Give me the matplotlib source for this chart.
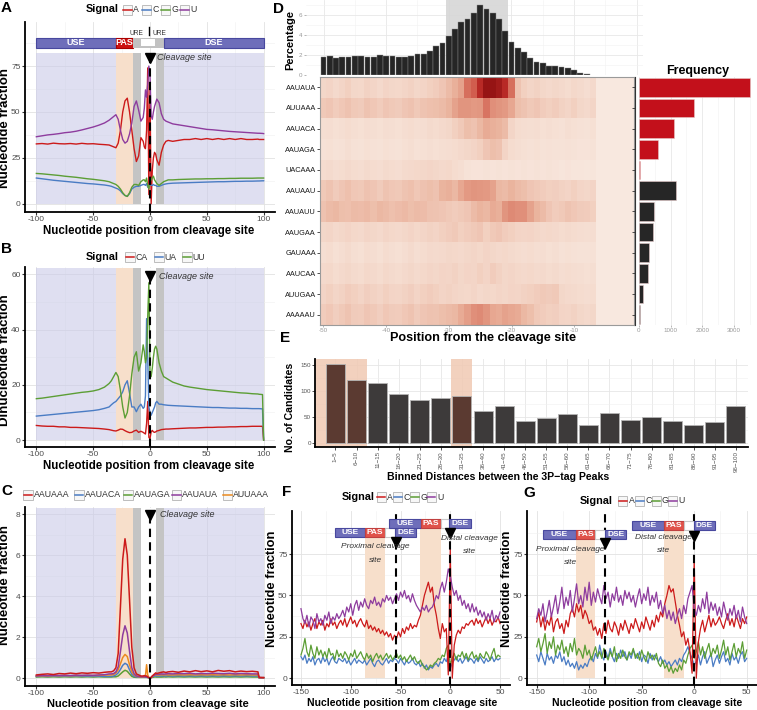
import matplotlib
matplotlib.use('Agg')
import matplotlib.pyplot as plt
from matplotlib.patches import Rectangle
from matplotlib.colors import LinearSegmentedColormap
import numpy as np

plt.rcParams['font.family'] = ['Liberation Sans', 'DejaVu Sans']
plt.rcParams['axes.unicode_minus'] = False

# ---------------- DATA ----------------
# Panels A-C: positions relative to cleavage site
pos_abc = ([-100, -95, -90, -85, -80, -75, -70, -65, -60, -55, -50, -45, -40]
           + [-36, -34, -32, -30, -28, -26, -24, -22, -20, -18, -16, -14, -12, -10, -8, -6]
           + [-5, -4, -3, -2, -1, 0, 1, 2, 3, 4, 5, 6]
           + [8, 10, 12, 14, 16]
           + [20, 25, 30, 35, 40, 45, 50, 55, 60, 65, 70, 75, 80, 85, 90, 95]
           + [96, 99, 100])

# Panel A: nucleotide fractions
a_A = ([32.6, 32.8, 32.5, 33.0, 32.7, 32.6, 32.8, 32.5, 32.9, 32.6, 32.7, 32.4, 32.2]
       + [32, 31.5, 31, 30.5, 33, 40, 50, 56, 57.5, 50, 40, 30, 23, 26, 36, 34]
       + [31, 30, 40, 74, 5, 62, 0, 18, 25, 28, 27, 24]
       + [21, 28, 32, 34, 34.5]
       + [34, 34.5, 35, 35, 35.5, 35, 35.5, 35, 35.5, 35, 35.5, 35, 35.5, 35, 35, 35.2]
       + [35, 35, 35])
a_U = ([36.5, 37, 37.5, 37.8, 38.2, 38.7, 39, 39.5, 40.2, 41, 41.8, 42.8, 44]
       + [45.5, 46.5, 47.5, 48.5, 46, 40, 35, 33, 34, 38, 44, 53, 56, 51, 45, 47]
       + [52, 62, 58, 65, 75, 70, 48, 46, 50, 53, 55, 57]
       + [55, 49, 46, 45, 44.5]
       + [43.5, 43, 42.5, 42, 41.5, 41, 40.5, 40.3, 40, 39.7, 39.4, 39.2, 39, 38.8, 38.6, 38.4]
       + [38.4, 38.3, 38.2])
a_G = ([16.5, 16.3, 16, 15.7, 15.4, 15, 14.7, 14.4, 14, 13.6, 13.3, 12.9, 12.5]
       + [12, 11.5, 11, 10.5, 9.5, 8, 6, 4.5, 4, 6, 9, 10.5, 10.5, 10, 12, 13]
       + [13, 12, 14, 10, 8, 12, 13, 14, 15, 13, 12, 11]
       + [10, 11, 12, 12.5, 13]
       + [13, 13.2, 13.3, 13.4, 13.5, 13.5, 13.6, 13.6, 13.7, 13.7, 13.8, 13.8, 13.9, 13.9, 13.9, 14]
       + [14, 14, 14])
a_C = ([14, 13.6, 13.2, 12.8, 12.5, 12.2, 11.9, 11.6, 11.3, 11, 10.8, 10.5, 10.2]
       + [9.8, 9.5, 9, 8.5, 8, 7, 5.5, 4.5, 4, 5.5, 8, 9, 9.5, 9.5, 10, 10.5]
       + [10.5, 10, 11, 9, 10, 11, 10, 10, 10.5, 10, 10, 9.5]
       + [9.5, 10, 10.5, 10.8, 11]
       + [11.2, 11.3, 11.4, 11.5, 11.6, 11.7, 11.8, 11.9, 12, 12, 12.1, 12.2, 12.2, 12.3, 12.3, 12.4]
       + [12.4, 12.5, 12.5])

# Panel B: dinucleotide fractions
b_UU = ([15, 15.2, 15.5, 15.8, 16.1, 16.4, 16.7, 17, 17.3, 17.5, 17.8, 18.3, 19.2]
        + [20.5, 21.5, 23, 24.5, 23, 18, 12, 8, 10, 16, 24, 30, 32, 25, 28, 34.5]
        + [32, 28, 30, 45, 57, 24, 23, 26, 30, 33, 34, 33]
        + [28, 25, 23, 22.5, 22]
        + [21, 20.3, 19.6, 19.2, 18.9, 18.6, 18.3, 18.1, 17.9, 17.7, 17.5, 17.3, 17.1, 17, 16.8, 16.7]
        + [16.6, 16.5, 0])
b_UA = ([8.7, 8.9, 9.1, 9.3, 9.5, 9.7, 9.9, 10.1, 10.3, 10.5, 10.7, 11, 11.5]
        + [12, 12.8, 13.5, 14, 15, 16, 17.5, 20, 21.5, 17, 12, 12, 10.3, 12, 13, 11.5]
        + [12, 16, 44, 30, 12, 10, 9, 10, 11, 12, 13.5, 14]
        + [13, 13, 12.8, 12.7, 12.6]
        + [12.5, 12.4, 12.3, 12.2, 12.1, 12, 11.9, 11.8, 11.8, 11.7, 11.6, 11.6, 11.5, 11.5, 11.4, 11.4]
        + [11.4, 11.3, 0])
b_CA = ([5.3, 5.1, 5.0, 5.0, 4.8, 4.8, 4.6, 4.6, 4.5, 4.4, 4.3, 4.2, 4.0]
        + [3.8, 3.6, 3.4, 3.3, 3.6, 4.0, 3.9, 3.4, 3.0, 2.7, 2.8, 3.3, 3.6, 2.8, 3.2, 2.8]
        + [2.5, 2.2, 6, 14, 1, 0.5, 3, 3.5, 3, 2.8, 3, 3.3]
        + [3.5, 3.8, 3.9, 4, 4]
        + [4.1, 4.2, 4.3, 4.4, 4.4, 4.5, 4.6, 4.6, 4.7, 4.7, 4.8, 4.8, 4.9, 4.9, 5.0, 5.0]
        + [5.0, 5.0, 0])

# Panel C: hexamer fractions
c_AAUAAA = ([0.15, 0.18, 0.2, 0.17, 0.22, 0.2, 0.24, 0.21, 0.25, 0.23, 0.26, 0.24, 0.28]
            + [0.3, 0.3, 0.35, 0.5, 1.2, 3.5, 5.8, 6.8, 6.0, 3.8, 1.5, 0.5, 0.2, 0.15, 0.1, 0.1]
            + [0.12, 0.1, 0.1, 0.05, 0.02, 0.0, 0.02, 0.1, 0.15, 0.2, 0.25, 0.22]
            + [0.25, 0.28, 0.3, 0.27, 0.3]
            + [0.32, 0.28, 0.34, 0.3, 0.36, 0.31, 0.35, 0.3, 0.37, 0.33, 0.36, 0.3, 0.34, 0.31, 0.33, 0.3]
            + [0.03, 0.02, 0.02])
c_AAUACA = ([0.08, 0.09, 0.08, 0.09, 0.08, 0.09, 0.08, 0.09, 0.08, 0.09, 0.08, 0.09, 0.08]
            + [0.08, 0.08, 0.1, 0.15, 0.25, 0.42, 0.62, 0.72, 0.65, 0.4, 0.18, 0.08, 0.05, 0.04, 0.04, 0.04]
            + [0.04, 0.04, 0.04, 0.03, 0.02, 0.0, 0.03, 0.06, 0.08, 0.1, 0.1, 0.1]
            + [0.1, 0.1, 0.11, 0.1, 0.11]
            + [0.1, 0.11, 0.1, 0.11, 0.1, 0.11, 0.1, 0.11, 0.1, 0.11, 0.1, 0.11, 0.1, 0.11, 0.1, 0.1]
            + [0.01, 0.01, 0.01])
c_AAUAGA = ([0.05, 0.06, 0.05, 0.06, 0.05, 0.06, 0.05, 0.06, 0.05, 0.06, 0.05, 0.06, 0.05]
            + [0.05, 0.05, 0.06, 0.06, 0.1, 0.2, 0.3, 0.38, 0.33, 0.2, 0.08, 0.04, 0.03, 0.03, 0.03, 0.03]
            + [0.03, 0.03, 0.03, 0.02, 0.01, 0.0, 0.02, 0.03, 0.04, 0.05, 0.05, 0.05]
            + [0.05, 0.05, 0.06, 0.05, 0.06]
            + [0.05, 0.06, 0.05, 0.06, 0.05, 0.06, 0.05, 0.06, 0.05, 0.06, 0.05, 0.06, 0.05, 0.06, 0.05, 0.05]
            + [0.01, 0.01, 0.01])
c_AAUAUA = ([0.1, 0.12, 0.11, 0.13, 0.12, 0.13, 0.12, 0.14, 0.13, 0.14, 0.13, 0.15, 0.16]
            + [0.2, 0.2, 0.22, 0.3, 0.55, 1.3, 2.1, 2.55, 2.2, 1.3, 0.5, 0.2, 0.1, 0.08, 0.06, 0.06]
            + [0.06, 0.06, 0.05, 0.04, 0.02, 0.0, 0.03, 0.08, 0.12, 0.15, 0.17, 0.18]
            + [0.18, 0.2, 0.19, 0.2, 0.21]
            + [0.2, 0.22, 0.21, 0.23, 0.2, 0.22, 0.21, 0.23, 0.22, 0.21, 0.23, 0.2, 0.22, 0.21, 0.2, 0.2]
            + [0.02, 0.02, 0.02])
c_AUUAAA = ([0.1, 0.11, 0.1, 0.12, 0.11, 0.12, 0.11, 0.12, 0.12, 0.13, 0.12, 0.13, 0.14]
            + [0.15, 0.15, 0.17, 0.25, 0.4, 0.7, 1.0, 1.15, 1.05, 0.65, 0.3, 0.15, 0.08, 0.06, 0.05, 0.05]
            + [0.05, 0.1, 0.65, 0.15, 0.03, 0.0, 0.03, 0.08, 0.12, 0.14, 0.15, 0.15]
            + [0.15, 0.16, 0.15, 0.16, 0.15]
            + [0.15, 0.16, 0.15, 0.16, 0.15, 0.16, 0.15, 0.16, 0.15, 0.16, 0.15, 0.16, 0.15, 0.16, 0.15, 0.15]
            + [0.02, 0.02, 0.02])

# Panel D
hist_pos = list(range(-50, -7))
hist_pct = [1.83, 1.9, 1.73, 1.8, 1.8, 1.87, 1.87, 1.8, 1.83, 1.97, 1.87, 1.87, 1.8, 1.8, 1.9,
            2.07, 2.1, 2.4, 2.9, 3.23, 3.9, 4.57, 5.3, 5.63, 6.17, 7.03, 6.63, 6.23, 5.57, 4.43,
            3.3, 2.73, 2.3, 1.7, 1.33, 1.17, 0.93, 0.93, 0.83, 0.73, 0.5, 0.17, 0.07]
heat_rows = ['AAUAUA', 'AUUAAA', 'AAUACA', 'AAUAGA', 'UACAAA', 'AAUAAU',
             'AAUAUU', 'AAUGAA', 'GAUAAA', 'AAUCAA', 'AUUGAA', 'AAAAAU']
heat_cols = list(range(-50, 0))
heat_vals = [
    [14, 16, 12, 15, 18, 14, 13, 17, 15, 12, 16, 14, 13, 15, 17, 14, 16, 18, 20, 24, 30, 36, 42,
     62, 68, 85, 100, 100, 95, 85, 62, 25, 18, 15, 17, 14, 12, 14, 12, 10, 13, 11, 9, 12, 0, 0, 0, 0, 0, 0],
    [22, 24, 20, 23, 26, 22, 21, 25, 23, 20, 24, 22, 21, 24, 26, 22, 25, 27, 28, 30, 34, 42, 48,
     48, 46, 47, 60, 50, 48, 46, 40, 28, 25, 22, 24, 20, 18, 20, 17, 15, 18, 14, 12, 15, 0, 0, 0, 0, 0, 0],
    [8, 9, 7, 8, 10, 8, 7, 9, 8, 7, 9, 8, 7, 9, 10, 8, 9, 11, 10, 12, 14, 18, 22,
     28, 26, 32, 38, 36, 34, 30, 15, 10, 9, 8, 9, 7, 8, 7, 6, 8, 7, 6, 5, 7, 0, 0, 0, 0, 0, 0],
    [6, 7, 5, 6, 8, 6, 5, 7, 6, 5, 7, 6, 5, 7, 8, 6, 7, 8, 7, 8, 9, 10, 12,
     14, 16, 18, 24, 28, 26, 16, 10, 8, 7, 6, 7, 5, 6, 5, 5, 6, 5, 4, 4, 5, 0, 0, 0, 0, 0, 0],
    [10, 11, 9, 10, 12, 10, 9, 11, 10, 9, 11, 10, 9, 11, 12, 13, 14, 15, 14, 12, 13, 10, 8,
     5, 4, 4, 5, 4, 5, 4, 5, 4, 5, 4, 5, 4, 5, 4, 3, 4, 3, 3, 2, 3, 0, 0, 0, 0, 0, 0],
    [22, 25, 21, 24, 27, 23, 22, 26, 24, 21, 25, 23, 22, 25, 27, 23, 26, 28, 26, 34, 36, 32, 40,
     46, 48, 47, 46, 42, 32, 30, 34, 30, 28, 24, 22, 20, 18, 19, 17, 16, 18, 15, 14, 16, 0, 0, 0, 0, 0, 0],
    [26, 30, 32, 28, 27, 30, 29, 31, 28, 32, 30, 27, 29, 31, 28, 30, 29, 26, 25, 24, 22, 20, 22,
     24, 30, 34, 32, 38, 36, 48, 52, 50, 50, 42, 34, 30, 24, 20, 22, 25, 23, 21, 20, 18, 0, 0, 0, 0, 0, 0],
    [14, 15, 12, 14, 16, 13, 12, 15, 14, 12, 15, 13, 12, 14, 16, 13, 15, 17, 16, 18, 20, 22, 18,
     20, 22, 24, 18, 22, 24, 20, 18, 16, 15, 16, 14, 12, 13, 12, 10, 11, 10, 9, 8, 9, 0, 0, 0, 0, 0, 0],
    [8, 10, 7, 9, 11, 8, 7, 10, 9, 7, 10, 8, 7, 9, 11, 8, 10, 12, 11, 12, 14, 13, 12,
     14, 15, 13, 16, 14, 12, 13, 11, 10, 9, 10, 8, 9, 7, 8, 6, 7, 6, 5, 5, 6, 0, 0, 0, 0, 0, 0],
    [12, 13, 10, 12, 14, 11, 10, 13, 12, 10, 13, 11, 10, 12, 14, 11, 13, 15, 14, 16, 15, 17, 14,
     16, 15, 18, 16, 20, 17, 14, 15, 13, 12, 13, 11, 12, 10, 11, 9, 10, 9, 8, 7, 8, 0, 0, 0, 0, 0, 0],
    [16, 18, 15, 17, 20, 18, 16, 19, 17, 15, 18, 16, 15, 17, 19, 16, 18, 20, 18, 16, 17, 15, 14,
     13, 15, 12, 14, 13, 15, 14, 16, 15, 17, 18, 20, 22, 21, 22, 14, 12, 11, 10, 9, 10, 0, 0, 0, 0, 0, 0],
    [20, 23, 19, 22, 25, 21, 20, 24, 22, 19, 23, 21, 20, 23, 25, 21, 24, 26, 25, 28, 30, 32, 38,
     44, 50, 52, 48, 40, 38, 42, 40, 38, 32, 28, 22, 20, 18, 19, 16, 15, 17, 14, 12, 14, 0, 0, 0, 0, 0, 0],
]
freq_vals = [3505, 1747, 1116, 600, 30, 1158, 484, 431, 326, 274, 116, 40]

# Panel E
e_bins = ['1\u22125', '6\u221210', '11\u221215', '16\u221220', '21\u221225', '26\u221230', '31\u221235',
          '36\u221240', '41\u221245', '46\u221250', '51\u221255', '56\u221260', '61\u221265', '66\u221270',
          '71\u221275', '76\u221280', '81\u221285', '86\u221290', '91\u221295', '96\u2212100']
e_counts = [152, 121, 115, 94, 82, 87, 90, 62, 70, 43, 47, 55, 34, 58, 45, 49, 42, 34, 40, 70]
e_highlight = [0, 1, 6]

# Panels F, G: positions every 2 nt
pos_fg = list(range(-150, 51, 2))
f_A = ([33, 30, 35, 31, 34, 29, 33, 36, 30, 34, 32, 35, 29, 33, 31, 36, 32, 34, 30, 33, 35]
       + [32, 36, 31, 34, 37, 33, 35, 31, 34, 36] + [33, 31, 35, 30, 32, 29, 31, 28, 30, 27]
       + [29, 26, 28, 25, 27, 23, 26] + [24, 28, 25, 30, 27, 31, 29, 33, 30, 32]
       + [31, 35, 38, 44, 50, 54, 58, 52] + [55, 44, 38, 30, 24, 33, 28] + [30, 2, 78]
       + [0, 20, 26, 29, 27, 31, 30, 33, 32, 34]
       + [35, 32, 36, 33, 35, 31, 34, 37, 33, 36, 32, 35, 34, 37, 33])
f_C = ([13, 11, 14, 9, 12, 10, 13, 8, 11, 12, 9, 13, 10, 12, 8, 11, 13, 10, 9, 12, 11]
       + [10, 12, 9, 11, 8, 10, 12, 9, 11, 10] + [9, 11, 8, 10, 12, 9, 7, 10, 11, 9]
       + [8, 10, 12, 9, 11, 10, 12] + [11, 9, 12, 10, 8, 11, 9, 10, 12, 9]
       + [8, 10, 7, 9, 6, 8, 5, 7] + [6, 8, 9, 7, 10, 9, 12] + [10, 14, 6]
       + [9, 11, 13, 10, 12, 9, 11, 13, 10, 12]
       + [11, 9, 12, 10, 13, 11, 9, 12, 10, 11, 13, 10, 12, 11, 12])
f_G = ([14, 18, 24, 16, 13, 20, 15, 12, 19, 14, 17, 13, 16, 12, 18, 14, 15, 11, 17, 13, 15]
       + [12, 16, 14, 11, 15, 13, 17, 12, 14, 16] + [13, 11, 15, 12, 14, 10, 13, 15, 12, 14]
       + [11, 13, 15, 12, 14, 11, 13] + [15, 12, 14, 11, 13, 10, 12, 14, 11, 13]
       + [10, 9, 11, 8, 7, 5, 6, 8] + [7, 9, 10, 12, 11, 14, 13] + [18, 20, 8]
       + [12, 15, 11, 14, 13, 16, 12, 15, 11, 14]
       + [16, 12, 14, 11, 15, 13, 12, 16, 14, 11, 15, 18, 12, 14, 13])
f_U = ([42, 36, 33, 38, 31, 37, 35, 30, 39, 34, 36, 32, 38, 35, 40, 33, 37, 35, 39, 36, 38]
       + [41, 37, 43, 40, 45, 38, 44, 47, 41, 46] + [43, 48, 44, 42, 47, 45, 49, 44, 46, 43]
       + [48, 46, 50, 47, 49, 45, 48] + [51, 47, 52, 49, 53, 48, 50, 46, 51, 47]
       + [44, 42, 40, 43, 41, 44, 40, 42] + [43, 46, 50, 48, 54, 58, 52] + [58, 66, 62]
       + [55, 50, 53, 47, 50, 44, 47, 42, 45, 40]
       + [45, 40, 43, 38, 41, 37, 40, 35, 39, 36, 41, 34, 38, 36, 40])
g_A = ([34, 40, 31, 37, 29, 35, 32, 38, 28, 34, 36, 30, 33, 27, 35, 31, 39, 42, 37, 45, 40]
       + [44, 36, 41, 38, 33, 35, 29, 31, 26, 30] + [24, 33, 27, 35, 30, 28, 34, 31, 26, 33]
       + [29, 35, 31, 27, 33, 30, 36] + [32, 28, 34, 30, 37, 33, 29, 35, 31, 38]
       + [34, 40, 37, 45, 50, 56, 52, 54] + [46, 38, 32, 25, 28, 20, 24] + [16, 3, 72]
       + [0, 22, 30, 35, 28, 33, 38, 31, 36, 32]
       + [34, 37, 33, 30, 35, 39, 32, 36, 31, 38, 34, 30, 36, 33, 37])
g_C = ([14, 10, 16, 12, 8, 15, 11, 13, 9, 14, 12, 16, 10, 13, 8, 11, 7, 9, 6, 10, 5]
       + [8, 6, 9, 7, 11, 13, 10, 15, 12, 20] + [14, 11, 16, 12, 18, 13, 10, 15, 12, 17]
       + [13, 16, 11, 15, 12, 17, 14] + [12, 16, 10, 14, 13, 9, 15, 11, 14, 12]
       + [10, 13, 9, 11, 8, 10, 7, 9] + [11, 8, 12, 10, 14, 16, 19] + [15, 12, 8]
       + [10, 14, 8, 13, 16, 9, 12, 15, 7, 11]
       + [14, 9, 13, 16, 10, 12, 8, 15, 11, 13, 9, 14, 16, 10, 12])
g_G = ([19, 24, 16, 21, 27, 15, 22, 18, 25, 14, 20, 17, 23, 15, 19, 13, 21, 16, 24, 14, 18]
       + [16, 12, 20, 14, 17, 11, 15, 19, 13, 16] + [12, 18, 14, 11, 16, 13, 19, 10, 15, 12]
       + [17, 13, 11, 16, 14, 18, 12] + [15, 11, 17, 13, 10, 16, 12, 14, 11, 15]
       + [9, 7, 11, 6, 8, 4, 7, 3] + [6, 4, 8, 5, 11, 9, 14] + [18, 20, 12]
       + [16, 22, 14, 19, 12, 17, 21, 13, 18, 15]
       + [20, 12, 17, 23, 14, 19, 11, 16, 21, 13, 18, 15, 22, 12, 17])
g_U = ([36, 42, 38, 45, 34, 40, 47, 37, 43, 50, 39, 46, 55, 42, 49, 44, 53, 40, 48, 57, 45]
       + [50, 43, 55, 47, 58, 44, 52, 46, 54, 49] + [45, 56, 48, 52, 43, 51, 47, 55, 46, 50]
       + [44, 53, 48, 52, 46, 50, 43] + [49, 54, 45, 51, 47, 55, 44, 50, 46, 52]
       + [42, 47, 39, 44, 36, 41, 35, 40] + [33, 38, 42, 36, 44, 39, 48] + [52, 56, 42]
       + [38, 44, 40, 48, 42, 52, 39, 46, 41, 45]
       + [38, 43, 37, 46, 40, 35, 42, 38, 44, 36, 41, 34, 43, 37, 33])

# ---------------- STYLE ----------------
W, H = 757, 710
RED, BLUE, GREEN, PURPLE, ORANGE = '#cc1a1a', '#4a7cc4', '#5c9e35', '#8e3c9e', '#eb8a1e'
LAV, PEACH, GREY = '#cacbe8', '#f7dfcb', '#c4c4c4'
EBLUE, EBLUE_E = '#6e6eba', '#48489e'

fig = plt.figure(figsize=(W / 100, H / 100), dpi=100)


def ax_px(x0, y0, x1, y1, **kw):
    return fig.add_axes([x0 / W, 1 - y1 / H, (x1 - x0) / W, (y1 - y0) / H], **kw)


def line_panel(rect, xlim, ylim, xt, yt, xminor, yminor):
    ax = ax_px(*rect)
    ax.set_xlim(xlim)
    ax.set_ylim(ylim)
    ax.set_xticks(xt)
    ax.set_yticks(yt)
    ax.set_xticks(xminor, minor=True)
    ax.set_yticks(yminor, minor=True)
    ax.grid(True, which='major', color='#e2e2e2', lw=0.6)
    ax.grid(True, which='minor', color='#efefef', lw=0.4)
    ax.set_axisbelow(True)
    ax.tick_params(which='minor', length=0)
    ax.tick_params(which='major', length=2.2, width=0.8, colors='#333333',
                   labelsize=6, labelcolor='#4d4d4d', pad=1)
    for s in ('top', 'right'):
        ax.spines[s].set_visible(False)
    for s in ('left', 'bottom'):
        ax.spines[s].set_linewidth(1.3)
        ax.spines[s].set_color('black')
    return ax


def shade_abc(ax, top):
    ax.add_patch(Rectangle((-100, 0), 200, top, fc=LAV, alpha=0.6, lw=0, zorder=1))
    ax.add_patch(Rectangle((-30, 0), 15, top, fc=PEACH, lw=0, zorder=1.2))
    ax.add_patch(Rectangle((-15, 0), 7, top, fc=GREY, lw=0, zorder=1.2))
    ax.add_patch(Rectangle((-8, 0), 13, top, fc='white', lw=0, zorder=1.2))
    ax.add_patch(Rectangle((5, 0), 7, top, fc=GREY, lw=0, zorder=1.2))


def cleavage(ax, x, y, ybot, dx=6.5, fs=6.5):
    ax.plot([x, x], [ybot, y], color='black', lw=1.5, ls=(0, (4, 2.5)), zorder=8)
    ax.plot([x], [y], marker='v', ms=7.5, color='black', zorder=9, clip_on=False)
    ax.text(x + dx, y, 'Cleavage site', fontsize=fs, style='italic', color='#333333',
            ha='left', va='center', zorder=9)


def ebox(ax, x0, x1, y0, y1, fc, ec='none', text=None, fs=6):
    ax.add_patch(Rectangle((x0, y0), x1 - x0, y1 - y0, fc=fc, ec=ec, lw=0.8, zorder=10, clip_on=False))
    if text:
        ax.text((x0 + x1) / 2, (y0 + y1) / 2, text, color='white', fontsize=fs, fontweight='bold',
                ha='center', va='center', zorder=11, clip_on=False)


# ---------------- Panel A ----------------
axA = line_panel((25, 22, 275, 212), (-110, 110), (-4.5, 99), [-100, -50, 0, 50, 100], [0, 25, 50, 75],
                 [-75, -25, 25, 75], [12.5, 37.5, 62.5, 87.5])
shade_abc(axA, 82)
for ys, c in ((a_A, RED), (a_C, BLUE), (a_G, GREEN), (a_U, PURPLE)):
    axA.plot(pos_abc, ys, color=c, lw=1.0, zorder=3)
cleavage(axA, 0, 79.4, -4.5)
ebox(axA, -100, -30, 85, 90.3, EBLUE, EBLUE_E, 'USE', 6.5)
ebox(axA, -30, -15, 85, 90.3, '#cc1111', '#aa0000', 'PAS', 6.5)
ebox(axA, -15, 12, 85, 90.3, '#c2c2c2')
ebox(axA, -7.5, 4.5, 85.7, 89.6, 'white')
ebox(axA, 12, 100, 85, 90.3, EBLUE, EBLUE_E, 'DSE', 6.5)
axA.text(-12, 93, 'URE', fontsize=4.8, color='#333333', ha='center', va='center', clip_on=False)
axA.text(8, 93, 'URE', fontsize=4.8, color='#333333', ha='center', va='center', clip_on=False)
axA.plot([-0.5, -0.5], [91.8, 96.5], color='black', lw=1.0, clip_on=False)

# ---------------- Panel B ----------------
axB = line_panel((25, 267, 275, 447), (-110, 110), (-2.5, 62.7), [-100, -50, 0, 50, 100], [0, 20, 40, 60],
                 [-75, -25, 25, 75], [10, 30, 50])
shade_abc(axB, 62.5)
for ys, c in ((b_CA, RED), (b_UA, BLUE), (b_UU, GREEN)):
    axB.plot(pos_abc, ys, color=c, lw=1.0, zorder=3)
cleavage(axB, 0, 59.4, -2.5, dx=7.5)

# ---------------- Panel C ----------------
axC = line_panel((25, 507, 275, 686), (-110, 110), (-0.39, 8.35), [-100, -50, 0, 50, 100], [0, 2, 4, 6, 8],
                 [-75, -25, 25, 75], [1, 3, 5, 7])
shade_abc(axC, 8.3)
for ys, c in ((c_AAUAGA, GREEN), (c_AAUACA, BLUE), (c_AUUAAA, ORANGE), (c_AAUAUA, PURPLE), (c_AAUAAA, RED)):
    axC.plot(pos_abc, ys, color=c, lw=1.1, zorder=3)
cleavage(axC, 0, 7.97, -0.39, dx=8.5)

# ---------------- Panel F ----------------
FPAS = '#e0524a'
axF = line_panel((292, 511, 510, 685), (-159, 60), (-4.1, 101), [-150, -100, -50, 0, 50], [0, 25, 50, 75],
                 [-125, -75, -25, 25], [12.5, 37.5, 62.5, 87.5])
axF.add_patch(Rectangle((-86, 0), 20.8, 85.2, fc=PEACH, lw=0, zorder=1))
axF.add_patch(Rectangle((-30, 0), 20.2, 90.8, fc=PEACH, lw=0, zorder=1))
for ys, c in ((f_C, BLUE), (f_G, GREEN), (f_A, RED), (f_U, PURPLE)):
    axF.plot(pos_fg, ys, color=c, lw=0.9, zorder=3)
for xx in (-55, 0):
    axF.plot([xx, xx], [-4.1, 101], color='black', lw=1.5, ls=(0, (4, 2.5)), zorder=8)
ebox(axF, -115.6, -86, 85.2, 90.8, EBLUE, EBLUE_E, 'USE')
ebox(axF, -86, -65.2, 85.2, 90.8, FPAS, '#c04040', 'PAS')
ebox(axF, -65.2, -55.1, 85.2, 90.8, 'white', '#c8c8c8')
ebox(axF, -55.1, -34.3, 85.2, 90.8, EBLUE, EBLUE_E, 'DSE')
ebox(axF, -61.2, -29.9, 90.8, 96.3, EBLUE, EBLUE_E, 'USE')
ebox(axF, -29.9, -9.8, 90.8, 96.3, FPAS, '#c04040', 'PAS')
ebox(axF, -9.8, -1.3, 90.8, 96.3, 'white', '#c8c8c8')
ebox(axF, -1.3, 20.5, 90.8, 96.3, EBLUE, EBLUE_E, 'DSE')
axF.plot([-55], [82.5], marker='v', ms=7.5, color='black', zorder=12)
axF.plot([0], [87.5], marker='v', ms=7.5, color='black', zorder=12)
axF.text(-75.3, 79.3, 'Proximal cleavage', fontsize=6, style='italic', color='#333333', ha='center', va='center', zorder=12)
axF.text(-75.3, 71.3, 'site', fontsize=6, style='italic', color='#333333', ha='center', va='center', zorder=12)
axF.text(19.3, 84.4, 'Distal cleavage', fontsize=6, style='italic', color='#333333', ha='center', va='center', zorder=12)
axF.text(19.3, 76.4, 'site', fontsize=6, style='italic', color='#333333', ha='center', va='center', zorder=12)

# ---------------- Panel G ----------------
axG = line_panel((527, 511, 757, 685), (-159.2, 59.8), (-4.1, 101), [-150, -100, -50, 0, 50], [0, 25, 50, 75],
                 [-125, -75, -25, 25], [12.5, 37.5, 62.5, 87.5])
axG.add_patch(Rectangle((-112.5, 0), 18.3, 84.1, fc=PEACH, lw=0, zorder=1))
axG.add_patch(Rectangle((-29, 0), 19, 89.4, fc=PEACH, lw=0, zorder=1))
for ys, c in ((g_C, BLUE), (g_G, GREEN), (g_A, RED), (g_U, PURPLE)):
    axG.plot(pos_fg, ys, color=c, lw=0.9, zorder=3)
for xx in (-85, 0):
    axG.plot([xx, xx], [-4.1, 101], color='black', lw=1.5, ls=(0, (4, 2.5)), zorder=8)
ebox(axG, -144, -112.5, 84.1, 89.6, EBLUE, EBLUE_E, 'USE')
ebox(axG, -112.5, -94.2, 84.1, 89.6, FPAS, '#c04040', 'PAS')
ebox(axG, -94.2, -84.6, 84.1, 89.6, 'white', '#c8c8c8')
ebox(axG, -84.6, -64.7, 84.1, 89.6, EBLUE, EBLUE_E, 'DSE')
ebox(axG, -59.2, -29, 89.4, 95.1, EBLUE, EBLUE_E, 'USE')
ebox(axG, -29, -10, 89.4, 95.1, FPAS, '#c04040', 'PAS')
ebox(axG, -10, -0.5, 89.4, 95.1, 'white', '#c8c8c8')
ebox(axG, -0.5, 20.1, 89.4, 95.1, EBLUE, EBLUE_E, 'DSE')
axG.plot([-85], [81.5], marker='v', ms=7.5, color='black', zorder=12)
axG.plot([0], [86], marker='v', ms=7.5, color='black', zorder=12)
axG.text(-118.2, 78, 'Proximal cleavage', fontsize=6, style='italic', color='#333333', ha='center', va='center', zorder=12)
axG.text(-118.2, 70, 'site', fontsize=6, style='italic', color='#333333', ha='center', va='center', zorder=12)
axG.text(-29, 85.2, 'Distal cleavage', fontsize=6, style='italic', color='#333333', ha='center', va='center', zorder=12)
axG.text(-29, 77, 'site', fontsize=6, style='italic', color='#333333', ha='center', va='center', zorder=12)

# ---------------- Panel D ----------------
axH = ax_px(306, 0, 643, 75)
axH.set_xlim(-52.8, 1.0)
axH.set_ylim(0, 7.5)
axH.axvspan(-30.5, -20.5, color='#d6d6d6', alpha=0.9, lw=0, zorder=0.8)
axH.bar(hist_pos, hist_pct, width=0.92, color='#262626', edgecolor='#8c8c8c', lw=0.3, zorder=2)
axH.set_xticks([-50, -40, -30, -20, -10, 0])
axH.set_xticks([-45, -35, -25, -15, -5], minor=True)
axH.set_yticks([0, 2, 4, 6])
axH.set_yticks([1, 3, 5, 7], minor=True)
axH.grid(True, which='major', color='#e8e8e8', lw=0.6)
axH.grid(True, which='minor', color='#f2f2f2', lw=0.4)
axH.set_axisbelow(True)
axH.tick_params(which='minor', length=0)
axH.tick_params(axis='x', which='major', length=0, labelbottom=False)
axH.tick_params(axis='y', which='major', length=1.5, width=0.5, colors='#999999', labelsize=4.5, pad=1)
for s in axH.spines.values():
    s.set_visible(False)

hm_cmap = LinearSegmentedColormap.from_list('hm', [(0, '#f8e8df'), (0.15, '#f3d5c7'), (0.35, '#eab29c'),
                                                   (0.5, '#e0907a'), (0.7, '#d0584a'), (0.85, '#b82a26'),
                                                   (1.0, '#961414')])
axM = ax_px(320, 77, 634, 325)
xe = np.arange(heat_cols[0] - 0.5, heat_cols[-1] + 1.0, 1.0)
ye = np.arange(-0.5, len(heat_rows), 1.0)
axM.pcolormesh(xe, ye, np.array(heat_vals, dtype=float), cmap=hm_cmap, vmin=0, vmax=100, shading='flat')
axM.set_xlim(-50.5, -0.5)
axM.set_ylim(11.5, -0.5)
axM.set_yticks(range(len(heat_rows)))
axM.set_yticklabels(heat_rows)
axM.set_xticks([-50, -40, -30, -20, -10])
axM.tick_params(axis='y', length=2, width=0.6, colors='#333333', labelsize=5.3, labelcolor='#1a1a1a', pad=1)
axM.tick_params(axis='x', length=1.5, width=0.5, colors='#999999', labelsize=4.5, pad=1)
for s in axM.spines.values():
    s.set_color('#9a9a9a')
    s.set_linewidth(0.8)

axQ = ax_px(635, 77, 757, 325)
axQ.set_xlim(-126, 3726)
axQ.set_ylim(11.5, -0.5)
fcols = ['#c3101b'] * 5 + ['#262626'] * 7
axQ.barh(range(len(freq_vals)), freq_vals, height=0.9, color=fcols, edgecolor='#e6c8c8', lw=0.4, zorder=2)
axQ.set_xticks([0, 1000, 2000, 3000])
axQ.set_xticks([500, 1500, 2500, 3500], minor=True)
axQ.set_yticks(range(len(freq_vals)))
axQ.set_yticklabels([])
axQ.grid(True, axis='x', which='major', color='#e8e8e8', lw=0.6)
axQ.grid(True, axis='x', which='minor', color='#f2f2f2', lw=0.4)
axQ.set_axisbelow(True)
axQ.tick_params(which='minor', length=0)
axQ.tick_params(axis='x', length=1.5, width=0.5, colors='#999999', labelsize=4.5, pad=1)
axQ.tick_params(axis='y', length=2, width=0.6, colors='#333333')
for s in ('top', 'right', 'bottom'):
    axQ.spines[s].set_visible(False)
axQ.spines['left'].set_color('#333333')
axQ.spines['left'].set_linewidth(0.8)

# ---------------- Panel E ----------------
axE = ax_px(315, 359, 748, 447)
axE.set_xlim(-0.97, 19.57)
axE.set_ylim(-7.7, 161)
axE.axvspan(-0.97, 1.48, color='#f0c9b3', alpha=0.85, lw=0, zorder=0.8)
axE.axvspan(5.5, 6.5, color='#f0c9b3', alpha=0.85, lw=0, zorder=0.8)
ecols = ['#5b3a31' if i in e_highlight else '#3d3a3a' for i in range(len(e_counts))]
axE.bar(range(len(e_counts)), e_counts, width=0.9, color=ecols, edgecolor='#b5b5b5', lw=0.6, zorder=2)
axE.set_xticks(range(len(e_bins)))
axE.set_xticklabels(e_bins, rotation=90)
axE.set_yticks([0, 50, 100, 150])
axE.set_yticks([25, 75, 125], minor=True)
axE.grid(True, which='major', color='#e6e6e6', lw=0.6)
axE.grid(True, which='minor', axis='y', color='#f0f0f0', lw=0.4)
axE.set_axisbelow(True)
axE.tick_params(which='minor', length=0)
axE.tick_params(which='major', length=2, width=0.6, colors='#333333', labelsize=4.5, labelcolor='#555555', pad=1)
for s in ('top', 'right'):
    axE.spines[s].set_visible(False)
for s in ('left', 'bottom'):
    axE.spines[s].set_linewidth(1.3)
    axE.spines[s].set_color('black')

# ---------------- Overlay texts ----------------
ov = fig.add_axes([0, 0, 1, 1], zorder=20)
ov.set_xlim(0, W)
ov.set_ylim(H, 0)
ov.set_axis_off()


def T(x, y, s, fs, bold=True, rot=0, **kw):
    ov.text(x, y, s, fontsize=fs, fontweight='bold' if bold else 'normal', rotation=rot,
            ha=kw.pop('ha', 'center'), va=kw.pop('va', 'center'), **kw)


def legend(title, tx, ty, keys, kw=9.5):
    if title:
        T(tx, ty, title, 7.8, ha='left')
    for kx, c, lab in keys:
        ov.add_patch(Rectangle((kx, ty - 5), kw, 10, fc='#f7f7f7', ec='#bdbdbd', lw=0.7))
        ov.plot([kx + 0.5, kx + kw - 0.5], [ty, ty], color=c, lw=1.1)
        ov.text(kx + kw + 1.2, ty, lab, fontsize=6.3, color='#333333', ha='left', va='center')


# panel letters
for lab, x, y in (('A', 6, 8), ('B', 6, 249), ('C', 7, 491), ('D', 278, 9), ('E', 285, 338),
                  ('F', 287, 492), ('G', 529, 493)):
    T(x, y, lab, 11)

legend('Signal', 86, 9.5, [(122.7, RED, 'A'), (141.7, BLUE, 'C'), (160.7, GREEN, 'G'), (179.7, PURPLE, 'U')])
legend('Signal', 86, 257, [(125, RED, 'CA'), (154, BLUE, 'UA'), (182, GREEN, 'UU')])
legend(None, 0, 494.5, [(23.3, RED, 'AAUAAA'), (74, BLUE, 'AAUACA'), (123.3, GREEN, 'AAUAGA'),
                        (171.7, PURPLE, 'AAUAUA'), (222.7, ORANGE, 'AUUAAA')])
legend('Signal', 342, 497.3, [(376.7, RED, 'A'), (393.3, BLUE, 'C'), (410, GREEN, 'G'), (426.7, PURPLE, 'U')], kw=9)
legend('Signal', 580, 500.7, [(618.3, RED, 'A'), (635, BLUE, 'C'), (651.7, GREEN, 'G'), (668.3, PURPLE, 'U')], kw=9)

XL = 'Nucleotide position from cleavage site'
T(149, 231, XL, 8.3)
T(5.3, 127.5, 'Nucleotide fraction', 9.5, rot=90)
T(149, 466, XL, 8.3)
T(5.3, 360, 'Dinucleotide fraction', 9.5, rot=90)
T(148, 704.3, XL, 7.9)
T(5.3, 585, 'Nucleotide fraction', 9.5, rot=90)
T(402, 703.5, XL, 7.5)
T(272, 589, 'Nucleotide fraction', 9.3, rot=90)
T(647, 703.5, XL, 7.5)
T(507, 589, 'Nucleotide fraction', 9.3, rot=90)
T(290.5, 40, 'Percentage', 8, rot=90)
T(483, 338, 'Position from the cleavage site', 9.1)
T(697.5, 71, 'Frequency', 9)
T(290, 407, 'No. of Candidates', 7.6, rot=90)
T(498.5, 477, 'Binned Distances between the 3P\u2212tag Peaks', 7.6)

fig.savefig('out.png', dpi=100)
